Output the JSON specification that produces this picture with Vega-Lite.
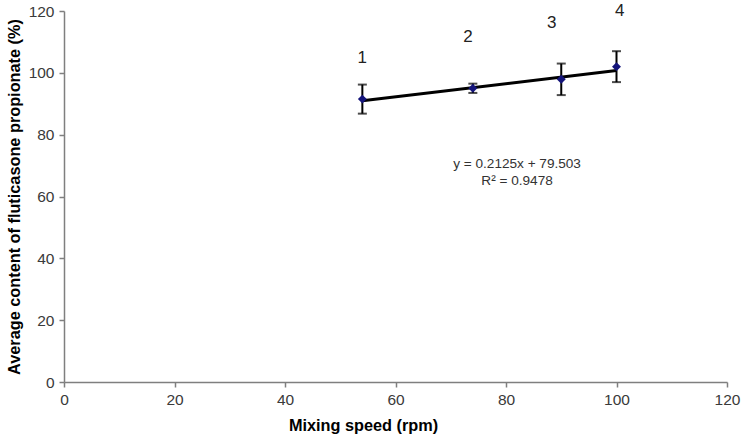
{
  "$schema": "https://vega.github.io/schema/vega-lite/v6.json",
  "width": 663,
  "height": 371,
  "autosize": "none",
  "padding": {"left": 64, "top": 11, "right": 15, "bottom": 56},
  "background": "white",
  "config": {
    "view": {"stroke": null},
    "font": "Liberation Sans",
    "axis": {
      "grid": false,
      "domainColor": "#7f7f7f",
      "tickColor": "#7f7f7f",
      "domainWidth": 1.5,
      "tickWidth": 1.5,
      "tickSize": 5,
      "labelColor": "#3a3a3a",
      "labelFontSize": 15.5,
      "labelFont": "Liberation Sans",
      "labelFlush": false,
      "labelOverlap": false,
      "titleFont": "Liberation Sans",
      "titleFontWeight": "bold",
      "titleFontSize": 16.3,
      "titleColor": "#000000"
    }
  },
  "datasets": {
    "pts": [
      {"speed": 54, "content": 91.5, "lo": 86.8, "hi": 96.2, "label": "1", "lx": 54, "ly": 104.8},
      {"speed": 74, "content": 95.0, "lo": 93.5, "hi": 96.5, "label": "2", "lx": 73.1, "ly": 111.6},
      {"speed": 90, "content": 97.9, "lo": 92.8, "hi": 103.0, "label": "3", "lx": 88.3, "ly": 116.1},
      {"speed": 100, "content": 102.0, "lo": 97.0, "hi": 107.0, "label": "4", "lx": 100.6, "ly": 119.9}
    ],
    "trend": [
      {"speed": 54, "fit": 90.98},
      {"speed": 100, "fit": 100.75}
    ],
    "eq": [
      {"x": 82, "y": 70.4, "t": "y = 0.2125x  + 79.503"},
      {"x": 82, "y": 64.9, "t": "R² = 0.9478"}
    ]
  },
  "layer": [
    {
      "data": {"name": "trend"},
      "mark": {"type": "line", "color": "#000000", "strokeWidth": 3},
      "encoding": {
        "x": {"field": "speed", "type": "quantitative", "scale": {"domain": [0, 120], "nice": false},
          "axis": {"values": [0, 20, 40, 60, 80, 100, 120], "title": "Mixing speed (rpm)", "labelPadding": 5, "titlePadding": 10, "titleX": 299, "titleAlign": "center"}},
        "y": {"field": "fit", "type": "quantitative", "scale": {"domain": [0, 120], "nice": false},
          "axis": {"values": [0, 20, 40, 60, 80, 100, 120], "title": "Average content of fluticasone propionate (%)", "labelPadding": 5, "titlePadding": 6}}
      }
    },
    {
      "data": {"name": "pts"},
      "mark": {"type": "rule", "color": "#000000", "strokeWidth": 2},
      "encoding": {
        "x": {"field": "speed", "type": "quantitative"},
        "y": {"field": "lo", "type": "quantitative"},
        "y2": {"field": "hi"}
      }
    },
    {
      "data": {"name": "pts"},
      "mark": {"type": "tick", "orient": "horizontal", "color": "#000000", "thickness": 2, "size": 9},
      "encoding": {
        "x": {"field": "speed", "type": "quantitative"},
        "y": {"field": "lo", "type": "quantitative"}
      }
    },
    {
      "data": {"name": "pts"},
      "mark": {"type": "tick", "orient": "horizontal", "color": "#000000", "thickness": 2, "size": 9},
      "encoding": {
        "x": {"field": "speed", "type": "quantitative"},
        "y": {"field": "hi", "type": "quantitative"}
      }
    },
    {
      "data": {"name": "pts"},
      "mark": {"type": "point", "shape": "diamond", "filled": true, "color": "#14147a", "size": 80, "opacity": 1},
      "encoding": {
        "x": {"field": "speed", "type": "quantitative"},
        "y": {"field": "content", "type": "quantitative"}
      }
    },
    {
      "data": {"name": "pts"},
      "mark": {"type": "text", "fontSize": 17, "color": "#222222", "font": "Liberation Sans"},
      "encoding": {
        "x": {"field": "lx", "type": "quantitative"},
        "y": {"field": "ly", "type": "quantitative"},
        "text": {"field": "label"}
      }
    },
    {
      "data": {"name": "eq"},
      "mark": {"type": "text", "fontSize": 13.6, "color": "#333333", "font": "Liberation Sans"},
      "encoding": {
        "x": {"field": "x", "type": "quantitative"},
        "y": {"field": "y", "type": "quantitative"},
        "text": {"field": "t"}
      }
    }
  ]
}
